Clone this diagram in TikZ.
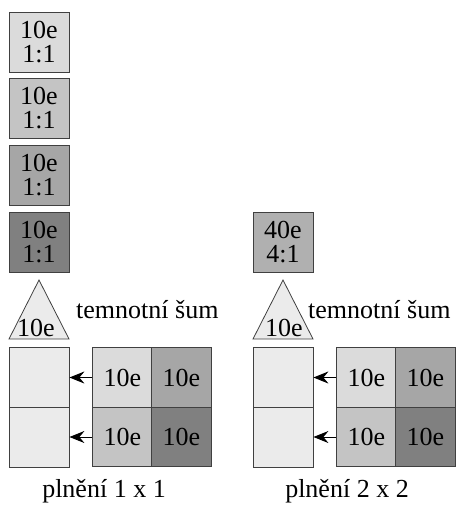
\documentclass[tikz,border=0pt]{standalone}
\usepackage{fontspec}
\setmainfont{Liberation Serif}
\usetikzlibrary{arrows.meta}
\definecolor{ga}{gray}{0.86}
\definecolor{gb}{gray}{0.77}
\definecolor{gc}{gray}{0.65}
\definecolor{gd}{gray}{0.50}
\definecolor{ge}{gray}{0.92}
\definecolor{gf}{gray}{0.69}
\definecolor{edge}{gray}{0.25}
\tikzset{
  txt/.style={font=\rmfamily\fontsize{26}{24}\selectfont, inner sep=0pt},
  box/.style={txt, draw=edge, line width=0.8pt, minimum width=60pt, minimum height=60pt, align=center},
  cell/.style={txt, draw=edge, line width=0.8pt, minimum width=59.5pt, minimum height=59.5pt},
  tri/.style={draw=edge, line width=0.8pt, fill=ge},
  arr/.style={-{Stealth[length=15pt,width=12pt,inset=5pt]}, line width=1pt}
}
\begin{document}
\begin{tikzpicture}[x=1pt,y=-1pt]
\useasboundingbox (0,0) rectangle (474,514);
% left column
\node[box, fill=ga] (b1) at (39,42) {10e\\1:1};
\node[box, fill=gb] (b2) at (39,108) {10e\\1:1};
\node[box, fill=gc] (b3) at (39,175) {10e\\1:1};
\node[box, fill=gd] (b4) at (39,242) {10e\\1:1};
\draw[tri] (9,339) -- (39,280) -- (69,339) -- cycle;
\node[txt, anchor=base] (t1) at (36,336) {10e};
\node[txt, anchor=base west] (n1) at (76,318) {temnotní šum};
\node[box, fill=ge] (s11) at (39,377.5) {};
\node[box, fill=ge] (s12) at (39,437) {};
\node[cell, fill=ga] (a11) at (122.5,377.5) {10e};
\node[cell, fill=gc] (a12) at (181.5,377.5) {10e};
\node[cell, fill=gb] (a21) at (122.5,437) {10e};
\node[cell, fill=gd] (a22) at (181.5,437) {10e};
\draw[arr] (a11.west) -- (s11.east);
\draw[arr] (a21.west) -- (s12.east);
\node[txt, anchor=base] (l1) at (104,497) {plnění 1 x 1};
% right column
\node[box, fill=gf] (c4) at (283,242) {40e\\4:1};
\draw[tri] (253,339) -- (283,280) -- (313,339) -- cycle;
\node[txt, anchor=base] (t2) at (284,336) {10e};
\node[txt, anchor=base west] (n2) at (308,318) {temnotní šum};
\node[box, fill=ge] (s21) at (283,377.5) {};
\node[box, fill=ge] (s22) at (283,437) {};
\node[cell, fill=ga] (d11) at (366.5,377.5) {10e};
\node[cell, fill=gc] (d12) at (425.5,377.5) {10e};
\node[cell, fill=gb] (d21) at (366.5,437) {10e};
\node[cell, fill=gd] (d22) at (425.5,437) {10e};
\draw[arr] (d11.west) -- (s21.east);
\draw[arr] (d21.west) -- (s22.east);
\node[txt, anchor=base] (l2) at (347,497) {plnění 2 x 2};
\end{tikzpicture}
\end{document}
